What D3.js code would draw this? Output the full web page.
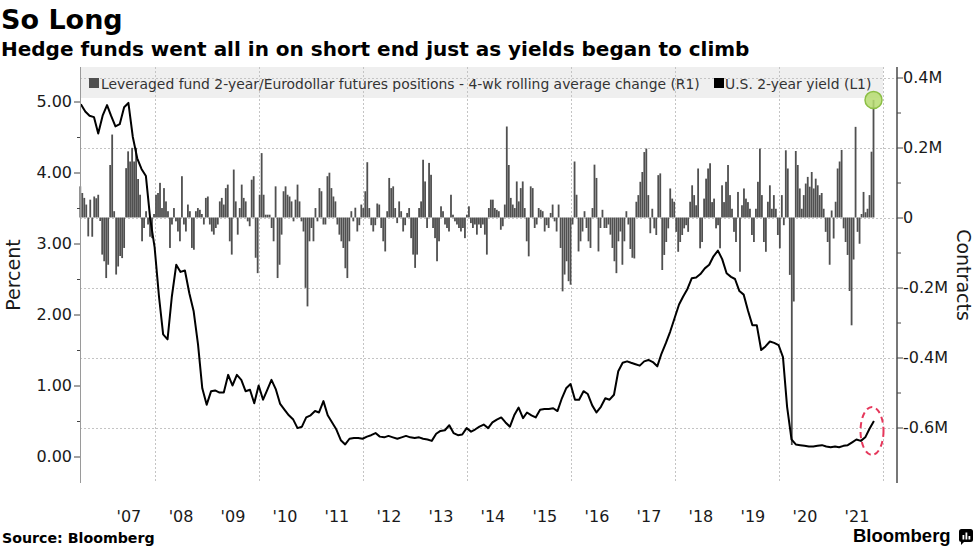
<!DOCTYPE html>
<html lang="en">
<head>
<meta charset="UTF-8">
<title>So Long</title>
<script src="https://d3js.org/d3.v7.min.js"></script>
<style>
  body { margin: 0; background: #fff; }
  svg text { font-family: "DejaVu Sans", Verdana, sans-serif; fill: #1a1a1a; }
</style>
</head>
<body>
<svg id="chart" width="977" height="549"></svg>
<script>
// leveraged fund positions, 4-wk rolling avg change, read every two weeks (thousand contracts)
var posStart = new Date(2006, 6, 28);
var positions = [
  89, 70, 56, 37, -54, 51, -55, 60, 55, 65,
  -10, -106, -125, -173, -135, 150, 237, 18, -163, -140,
  -110, -116, -87, 141, 189, 160, 199, 160, 199, 110,
  65, -68, -30, 18, -20, -55, -59, 10, 65, 70,
  99, 27, 84, 46, 18, -87, -20, 27, -11, -40,
  -68, 118, -20, -40, 37, 18, -87, -92, 18, 27,
  22, 10, -20, 56, 60, -20, -40, -49, -30, -20,
  46, 56, 37, 84, 94, -68, -106, 137, 46, -49,
  27, 94, 56, 46, -11, -25, 108, 118, -115, -159,
  65, 184, 65, 8, 8, 8, -30, -68, 89, -173,
  -135, -49, 75, 89, 65, 60, 46, -11, 51, 94,
  46, -11, -40, -201, -254, -68, -30, -68, 27, -11,
  84, 75, -20, -20, 118, 128, 84, 60, 46, -20,
  -49, -68, -87, -145, -173, -68, 18, -11, 28,
  -40, -22, 37, 27, 75, 158, 27, -22, -40, -22,
  40, 37, -30, -68, -97, 18, 113, 84, 89, 27,
  -16, 46, 18, -40, -22, 13, 27, -59, -106, -144,
  -106, 27, 46, 165, 103, -30, 156, 122, -30, -59,
  -125, -68, 32, 18, -20, -30, -40, 65, 8, -11,
  -20, -30, -40, -30, -59, 8, 32, -16, -30, -20,
  -49, -20, -30, -20, -49, -106, 27, 51, 51, 27,
  22, 18, -35, -25, 37, 260, 150, 56, 37, 27,
  103, 46, 84, 103, 27, -68, -111, 89, 84, -30,
  -20, 27, 22, 18, -40, -22, -30, 13, 37, -11,
  -40, 37, -87, -211, -163, -125, -182, -192, -20, 160,
  65, -97, -68, -40, 18, -30, -68, -87, 27, 151,
  113, -97, -30, 22, -30, -30, -20, -49, -87, -125,
  -159, -68, -40, -135, -68, 18, -20, -90, -115,
  -117, 45, 64, 102, 130, 187, 197, 64, -45, 25,
  -31, -50, 121, 126, -150, -107, -70, -31, 83, 54,
  45, -41, -98, -70, -50, -31, -22, -41, 45, 92,
  64, 35, 140, -88, -70, 54, 111, 140, 155, 44,
  54, -31, -22, -88, 92, 44, 102, 150, 64, 25,
  -41, -70, 73, -155, 35, 83, 54, 44, 25, -50,
  -70, 25, 102, 197, 64, -70, -98, 45, 92, 25,
  64, 25, -50, -88, 64, -22, 192, 140, -164, -650,
  -240, 190, 150, 83, 25, 64, 97, 116, 88, 130,
  83, 111, 92, 64, 70, 25, -41, -70, -135, 20,
  -60, 45, 140, 160, 193, -31, -70, -107, -210, -308,
  -120, 259, -41, -75, 10, 73, 15, 25, 64, 188,
  336
];

// U.S. 2-year yield, first of each month from Aug 2006 (percent)
var yieldStart = new Date(2006, 7, 1);
var yields = [
  4.96, 4.86, 4.80, 4.78, 4.55, 4.80, 4.95, 4.80, 4.65, 4.68,
  4.92, 4.98, 4.50, 4.20, 4.05, 3.95, 3.35, 2.95, 2.25, 1.72,
  1.65, 2.25, 2.70, 2.60, 2.62, 2.30, 2.05, 1.58, 0.96, 0.73,
  0.92, 0.93, 0.90, 0.90, 1.15, 1.00, 1.15, 1.08, 0.92, 0.94,
  0.75, 1.00, 0.80, 0.93, 1.08, 0.95, 0.74, 0.66, 0.58, 0.52,
  0.40, 0.42, 0.55, 0.58, 0.64, 0.62, 0.78, 0.58, 0.48, 0.38,
  0.23, 0.17, 0.25,
  0.26, 0.26, 0.25, 0.28, 0.30, 0.33, 0.28, 0.27, 0.29, 0.27,
  0.25, 0.27, 0.29, 0.27, 0.26, 0.27, 0.25, 0.24, 0.22, 0.32,
  0.36, 0.37, 0.44, 0.33, 0.30, 0.31, 0.40, 0.35, 0.38, 0.42,
  0.45, 0.40, 0.48, 0.52, 0.55, 0.48, 0.42, 0.58, 0.69, 0.54,
  0.62, 0.58, 0.55, 0.66, 0.67, 0.67, 0.68, 0.64, 0.82, 0.96,
  1.02, 0.80, 0.80, 0.92, 0.88, 0.72, 0.62, 0.70, 0.82, 0.80,
  0.87, 1.20, 1.32, 1.34, 1.32,
  1.30, 1.28, 1.34, 1.36, 1.33, 1.27, 1.45, 1.60, 1.76, 1.95,
  2.14, 2.25, 2.36, 2.51, 2.52, 2.57, 2.65, 2.70, 2.82, 2.90,
  2.78, 2.58, 2.53, 2.50, 2.33, 2.28, 2.05, 1.85, 1.85, 1.50,
  1.55, 1.62, 1.60, 1.57, 1.40, 0.70, 0.24, 0.17, 0.16, 0.15,
  0.14, 0.14, 0.15, 0.16, 0.14, 0.13, 0.14, 0.13, 0.15, 0.16,
  0.20, 0.24, 0.22, 0.27, 0.39, 0.50
];

var yearLabels = ["'07", "'08", "'09", "'10", "'11", "'12", "'13", "'14",
                  "'15", "'16", "'17", "'18", "'19", "'20", "'21"];
var leftTicks = [0, 1, 2, 3, 4, 5];
var rightTicks = [-600, -400, -200, 0, 200, 400];

var svg = d3.select('#chart');
var top0 = 67, bottom0 = 483, left0 = 80, right0 = 897;

var x = d3.scaleTime()
          .domain([new Date(2006, 6, 26), new Date(2022, 3, 12)])
          .range([left0, right0]);
var yL = d3.scaleLinear().domain([0, 5]).range([456.5, 101.5]);
var yR = d3.scaleLinear().domain([-600, 400]).range([427.5, 77.5]);

var bars = positions.map(function(v, i){ return {date: d3.timeDay.offset(posStart, 14 * i), v: v}; });
var ylds = yields.map(function(v, i){ return {date: d3.timeMonth.offset(yieldStart, i), v: v}; });

// legend band
svg.append('rect').attr('x', left0).attr('y', top0).attr('width', 803).attr('height', 31)
   .attr('fill', '#efefef');

// grid
var grid = svg.append('g').attr('stroke', '#c4c4c4').attr('stroke-dasharray', '2,2').attr('stroke-width', 1);
grid.selectAll('.vg').data(d3.timeYear.every(2).range(new Date(2008, 0, 1), new Date(2022, 0, 2)))
    .enter().append('line')
    .attr('x1', function(d){ return Math.round(x(d)) + 0.5; })
    .attr('x2', function(d){ return Math.round(x(d)) + 0.5; })
    .attr('y1', top0).attr('y2', bottom0);
grid.selectAll('.hg').data(rightTicks)
    .enter().append('line')
    .attr('x1', left0).attr('x2', right0)
    .attr('y1', function(d){ return Math.round(yR(d)) + 0.5; })
    .attr('y2', function(d){ return Math.round(yR(d)) + 0.5; });

// bars (R1)
svg.append('g').selectAll('rect').data(bars).enter().append('rect')
   .attr('x', function(d){ return x(d.date) - 0.9; })
   .attr('width', 1.8)
   .attr('y', function(d){ return Math.min(yR(d.v), yR(0)); })
   .attr('height', function(d){ return Math.abs(yR(d.v) - yR(0)); })
   .attr('fill', '#505050');

// yield line (L1)
var line = d3.line().x(function(d){ return x(d.date); }).y(function(d){ return yL(d.v); });
svg.append('path').datum(ylds).attr('d', line)
   .attr('fill', 'none').attr('stroke', '#000').attr('stroke-width', 2)
   .attr('stroke-linejoin', 'round');

// annotations
var lastBar = bars[bars.length - 1];
svg.append('circle').attr('cx', x(lastBar.date)).attr('cy', yR(lastBar.v)).attr('r', 8.5)
   .attr('fill', '#b6dc70').attr('fill-opacity', 0.85)
   .attr('stroke', '#8cbf45').attr('stroke-width', 1.5);
svg.append('ellipse').attr('cx', x(lastBar.date) - 1.5).attr('cy', yL(0.36))
   .attr('rx', 11.5).attr('ry', 24)
   .attr('fill', 'none').attr('stroke', '#e5375b').attr('stroke-width', 2)
   .attr('stroke-dasharray', '6,4');

// left axis
svg.append('line').attr('x1', left0 + 0.5).attr('x2', left0 + 0.5).attr('y1', top0).attr('y2', bottom0)
   .attr('stroke', '#9a9a9a');
var gl = svg.append('g').attr('transform', 'translate(' + left0 + ',0)')
   .call(d3.axisLeft(yL).tickValues(leftTicks).tickFormat(d3.format('.2f')).tickSize(6).tickPadding(2));
var glm = svg.append('g').attr('transform', 'translate(' + left0 + ',0)')
   .call(d3.axisLeft(yL).tickValues([0.5, 1.5, 2.5, 3.5, 4.5]).tickFormat('').tickSize(3));

// right axis
svg.append('line').attr('x1', right0).attr('x2', right0).attr('y1', top0).attr('y2', bottom0)
   .attr('stroke', '#555').attr('stroke-width', 1.6);
var gr = svg.append('g').attr('transform', 'translate(' + right0 + ',0)')
   .call(d3.axisRight(yR).tickValues(rightTicks)
   .tickFormat(function(d){ return d === 0 ? '0' : (d / 1000) + 'M'; }).tickSize(6).tickPadding(0));
var grm = svg.append('g').attr('transform', 'translate(' + right0 + ',0)')
   .call(d3.axisRight(yR).tickValues([-500, -300, -100, 100, 300]).tickFormat('').tickSize(4));

// bottom axis
var gx = svg.append('g').attr('transform', 'translate(0,' + bottom0 + ')')
   .call(d3.axisBottom(x).tickValues(yearLabels.map(function(d, i){ return new Date(2007 + i, 6, 1); }))
   .tickFormat(function(d, i){ return yearLabels[i]; }).tickSize(0).tickPadding(28));

[gl, glm, gr, grm, gx].forEach(function(g){
  g.select('.domain').remove();
  g.selectAll('.tick line').attr('stroke', '#444');
  g.selectAll('text').attr('font-size', 16).attr('fill', '#1a1a1a');
});

// axis titles
svg.append('text').attr('transform', 'translate(20,275) rotate(-90)')
   .attr('text-anchor', 'middle').attr('font-size', 19).text('Percent');
svg.append('text').attr('transform', 'translate(957,275) rotate(90)')
   .attr('text-anchor', 'middle').attr('font-size', 19).text('Contracts');

// legend
svg.append('rect').attr('x', 89).attr('y', 78).attr('width', 10).attr('height', 10).attr('fill', '#505050');
svg.append('text').attr('x', 101).attr('y', 88.5).attr('font-size', 13.9).style('fill', '#333')
   .text('Leveraged fund 2-year/Eurodollar futures positions - 4-wk rolling average change (R1)');
svg.append('rect').attr('x', 714).attr('y', 78).attr('width', 10).attr('height', 10).attr('fill', '#000');
svg.append('text').attr('x', 725).attr('y', 88.5).attr('font-size', 13.9).style('fill', '#333')
   .text('U.S. 2-year yield (L1)');

// titles
svg.append('text').attr('x', 1).attr('y', 29).attr('font-size', 27).attr('font-weight', 'bold')
   .style('fill', '#000').text('So Long');
svg.append('text').attr('x', 1).attr('y', 56).attr('font-size', 20).attr('font-weight', 'bold')
   .style('fill', '#000').text('Hedge funds went all in on short end just as yields began to climb');

// footer
svg.append('text').attr('x', 2).attr('y', 543).attr('font-size', 14.2).attr('font-weight', 'bold')
   .style('fill', '#000').text('Source: Bloomberg');
svg.append('text').attr('x', 853).attr('y', 542).attr('font-size', 18.5).attr('font-weight', 'bold')
   .style('font-family', '"Liberation Sans", Arial, sans-serif').style('fill', '#000').text('Bloomberg');
var logo = svg.append('g').attr('transform', 'translate(959,529)');
logo.append('rect').attr('width', 14).attr('height', 13).attr('rx', 2.5).attr('fill', '#000');
logo.append('path').attr('d', 'M2,12 L2,16 L6,12 Z').attr('fill', '#000');
logo.selectAll('.b').data([[3.5, 6], [6.5, 3.5], [9.5, 7]]).enter().append('rect')
    .attr('x', function(d){ return d[0]; }).attr('y', function(d){ return d[1]; })
    .attr('width', 1.8).attr('height', function(d){ return 10.5 - d[1]; }).attr('fill', '#fff');
</script>
</body>
</html>
